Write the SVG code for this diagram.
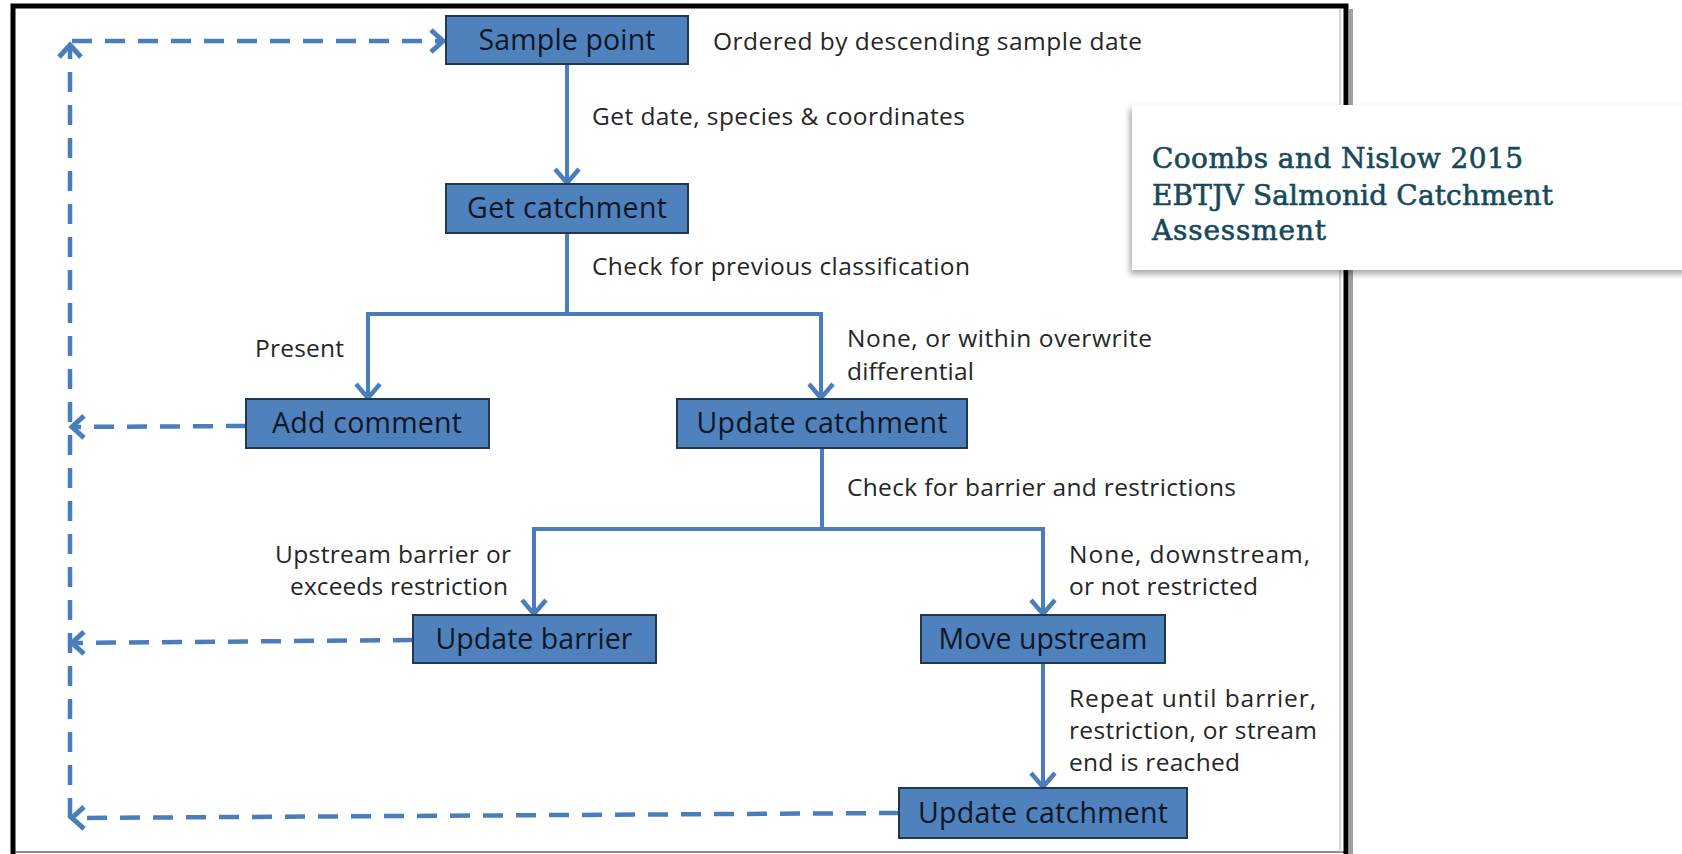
<svg xmlns="http://www.w3.org/2000/svg" width="1682" height="854" viewBox="0 0 1682 854">
<style>
.box rect{fill:#4f81bd;stroke:#22384f;stroke-width:2}
.box text{font-family:"Open Sans","Liberation Sans",sans-serif;font-size:28.5px;fill:#0e1726;text-anchor:middle}
.ann{font-family:"Open Sans","Liberation Sans",sans-serif;font-size:24.5px;fill:#262626}
.solid{fill:none;stroke:#4a7ebb;stroke-width:4}
.dash{fill:none;stroke:#4a7ebb;stroke-width:4.5;stroke-dasharray:20 13}
.title{font-family:"DejaVu Serif","Liberation Serif",serif;font-size:28px;fill:#17495a;stroke:#17495a;stroke-width:0.6}
</style>
<defs>
<marker id="ah" viewBox="0 0 20 28" markerWidth="20" markerHeight="28" refX="16" refY="14" orient="auto" markerUnits="userSpaceOnUse">
<path d="M2,2 L16,14 L2,26" fill="none" stroke="#4a7ebb" stroke-width="4.5"/>
</marker>
<marker id="ahd" viewBox="0 0 18 28" markerWidth="18" markerHeight="28" refX="14" refY="14" orient="auto" markerUnits="userSpaceOnUse">
<path d="M2,3 L14,14 L2,25" fill="none" stroke="#4a7ebb" stroke-width="5"/>
</marker>
<filter id="sh" x="-10%" y="-20%" width="120%" height="140%">
<feDropShadow dx="-2" dy="4" stdDeviation="3" flood-color="#000" flood-opacity="0.35"/>
</filter>
</defs>
<rect x="0" y="0" width="1682" height="854" fill="#fff"/>
<g id="frame">
<rect x="1349" y="9" width="4" height="845" fill="#a0a0a0"/>
<line x1="15" y1="852" x2="1344" y2="852" stroke="#8a8a8a" stroke-width="2"/>
<line x1="1340" y1="9" x2="1340" y2="852" stroke="#c8c8c8" stroke-width="1.5"/>
<rect x="13" y="6" width="1333" height="870" fill="none" stroke="#000" stroke-width="5"/>
</g>
<g id="connectors">
<path class="solid" d="M567,64 L567,183" marker-end="url(#ah)"/>
<path class="solid" d="M567,233 L567,314 M366,314 L823,314"/>
<path class="solid" d="M368,312 L368,398" marker-end="url(#ah)"/>
<path class="solid" d="M821,312 L821,398" marker-end="url(#ah)"/>
<path class="solid" d="M822,448 L822,529 M532,529 L1045,529"/>
<path class="solid" d="M534,527 L534,614" marker-end="url(#ah)"/>
<path class="solid" d="M1043,527 L1043,614" marker-end="url(#ah)"/>
<path class="solid" d="M1043,663 L1043,787" marker-end="url(#ah)"/>
<path class="dash" d="M70,818 L70,45" marker-end="url(#ahd)"/>
<path class="dash" d="M72,41 L443,41" marker-end="url(#ahd)"/>
<path class="dash" d="M246,426 L72,427" marker-end="url(#ahd)"/>
<path class="dash" d="M413,640 L72,643" marker-end="url(#ahd)"/>
<path class="dash" d="M899,813 L72,818" marker-end="url(#ahd)"/>
</g>
<g id="n-sample" class="box"><rect x="446" y="16" width="242" height="48"/><text x="567" y="50" textLength="177">Sample point</text></g>
<g id="n-getcatch" class="box"><rect x="446" y="184" width="242" height="49"/><text x="567" y="218" textLength="200">Get catchment</text></g>
<g id="n-addcomment" class="box"><rect x="246" y="399" width="243" height="49"/><text x="367" y="433" textLength="190">Add comment</text></g>
<g id="n-updcatch1" class="box"><rect x="677" y="399" width="290" height="49"/><text x="822" y="433" textLength="251">Update catchment</text></g>
<g id="n-updbarrier" class="box"><rect x="413" y="615" width="243" height="48"/><text x="534" y="649" textLength="197">Update barrier</text></g>
<g id="n-moveup" class="box"><rect x="921" y="615" width="244" height="48"/><text x="1043" y="649" textLength="209">Move upstream</text></g>
<g id="n-updcatch2" class="box"><rect x="899" y="788" width="288" height="50"/><text x="1043" y="823" textLength="250">Update catchment</text></g>
<g id="labels">
<text class="ann" x="713" y="50" textLength="429">Ordered by descending sample date</text>
<text class="ann" x="592" y="125" textLength="373">Get date, species &amp; coordinates</text>
<text class="ann" x="592" y="275" textLength="378">Check for previous classification</text>
<text class="ann" x="255" y="357" textLength="89">Present</text>
<text class="ann" x="847" y="347" textLength="305">None, or within overwrite</text>
<text class="ann" x="847" y="380" textLength="127">differential</text>
<text class="ann" x="847" y="496" textLength="389">Check for barrier and restrictions</text>
<text class="ann" x="275" y="563" textLength="236">Upstream barrier or</text>
<text class="ann" x="290" y="595" textLength="218">exceeds restriction</text>
<text class="ann" x="1069" y="563" textLength="241">None, downstream,</text>
<text class="ann" x="1069" y="595" textLength="189">or not restricted</text>
<text class="ann" x="1069" y="707" textLength="247">Repeat until barrier,</text>
<text class="ann" x="1069" y="739" textLength="248">restriction, or stream</text>
<text class="ann" x="1069" y="771" textLength="171">end is reached</text>
</g>
<g id="title-card">
<rect x="1132" y="105" width="560" height="165" fill="#fff" filter="url(#sh)"/>
<text class="title" x="1152" y="168" textLength="371">Coombs and Nislow 2015</text>
<text class="title" x="1152" y="205" textLength="401">EBTJV Salmonid Catchment</text>
<text class="title" x="1152" y="240" textLength="174">Assessment</text>
</g>
</svg>
